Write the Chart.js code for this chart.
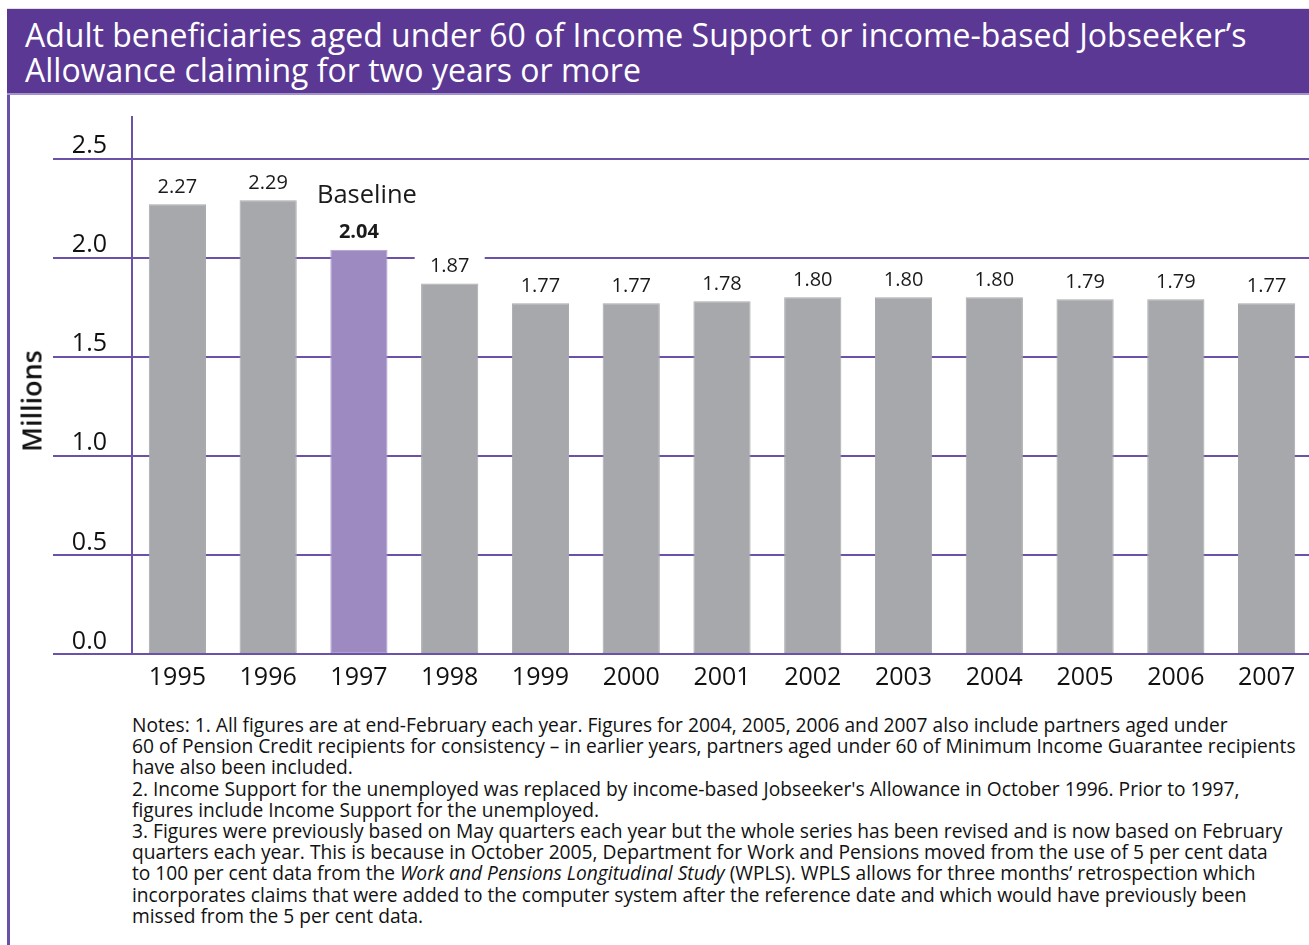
<!DOCTYPE html>
<html lang="en">
<head>
  <meta charset="UTF-8">
  <title>Long-term claimants under 60</title>
  <script src="https://cdn.jsdelivr.net/npm/chart.js"></script>
  <style>
    body { margin: 0; width: 1309px; height: 945px; overflow: hidden; background: #fff; position: relative; font-family: "Open Sans", sans-serif; }
    .title-bar { position: absolute; left: 7px; top: 8px; width: 1302px; height: 87px; box-sizing: border-box;
      background: #5B3893; border-top: 1px solid #e2e0e6; border-bottom: 2px solid #a393cc;
      color: #fff; font-size: 32px; line-height: 35px; padding: 8px 0 0 18px; white-space: nowrap; }
    .side-rule { position: absolute; left: 7px; top: 95px; bottom: 0; width: 3px; background: #6B50A8; }
    .chart-box { position: absolute; left: 0; top: 100px; width: 1312px; height: 600px; }
    .y-title { position: absolute; left: 31px; top: 401px; transform: translate(-50%, -50%) rotate(-90deg);
      font-size: 27px; font-weight: 600; color: #111; white-space: nowrap; }
    .notes { position: absolute; left: 132px; top: 714px; font-size: 19.2px; line-height: 21.2px; color: #111; white-space: nowrap; }
  </style>
</head>
<body>
  <div class="title-bar">Adult beneficiaries aged under 60 of Income Support or income-based Jobseeker’s<br>Allowance claiming for two years or more</div>
  <div class="side-rule"></div>
  <div class="chart-box"><canvas id="claimChart"></canvas></div>
  <div class="y-title">Millions</div>
  <div class="notes">
    Notes: 1. All figures are at end-February each year. Figures for 2004, 2005, 2006 and 2007 also include partners aged under<br>
    60 of Pension Credit recipients for consistency – in earlier years, partners aged under 60 of Minimum Income Guarantee recipients<br>
    have also been included.<br>
    2. Income Support for the unemployed was replaced by income-based Jobseeker's Allowance in October 1996. Prior to 1997,<br>
    figures include Income Support for the unemployed.<br>
    3. Figures were previously based on May quarters each year but the whole series has been revised and is now based on February<br>
    quarters each year. This is because in October 2005, Department for Work and Pensions moved from the use of 5 per cent data<br>
    to 100 per cent data from the <i>Work and Pensions Longitudinal Study</i> (WPLS). WPLS allows for three months’ retrospection which<br>
    incorporates claims that were added to the computer system after the reference date and which would have previously been<br>
    missed from the 5 per cent data.
  </div>

  <script>
    const years = ['1995', '1996', '1997', '1998', '1999', '2000', '2001', '2002', '2003', '2004', '2005', '2006', '2007'];
    const claimants = [2.27, 2.29, 2.04, 1.87, 1.77, 1.77, 1.78, 1.80, 1.80, 1.80, 1.79, 1.79, 1.77];
    const yTicks = [0, 0.5, 1.0, 1.5, 2.0, 2.5];
    const baselineYear = '1997';

    const purple = '#6B51A8';
    const grey = '#A7A8AB';
    const baselineFill = '#9D8AC1';

    Chart.defaults.font.family = '"Open Sans", sans-serif';
    Chart.defaults.color = '#1a1a1a';

    // value above each bar, plus the "Baseline" note over the reference year
    const valueLabels = {
      id: 'valueLabels',
      afterDatasetsDraw(chart) {
        const ctx = chart.ctx;
        const bars = chart.getDatasetMeta(0).data;
        ctx.save();
        ctx.textBaseline = 'middle';
        bars.forEach((bar, i) => {
          const y = bar.y - 17;
          const isBase = years[i] === baselineYear;
          ctx.fillStyle = '#fff';
          ctx.fillRect(bar.x - 35, y - 11, 70, 22);
          ctx.fillStyle = '#1a1a1a';
          ctx.textAlign = 'center';
          ctx.font = (isBase ? '700' : '400') + ' 20px "Open Sans"';
          ctx.fillText(claimants[i].toFixed(2), bar.x, y);
          if (isBase) {
            ctx.textAlign = 'left';
            ctx.font = '500 25.5px "Open Sans"';
            ctx.fillText('Baseline', bar.x - 42, bar.y - 54);
          }
        });
        ctx.restore();
      }
    };

    new Chart(document.getElementById('claimChart'), {
      type: 'bar',
      data: {
        labels: years,
        datasets: [{
          data: claimants,
          backgroundColor: years.map(y => y === baselineYear ? baselineFill : grey),
          borderColor: years.map(y => y === baselineYear ? '#ad9fd0' : grey),
          borderWidth: 1,
          borderSkipped: false,
          barPercentage: 0.63,
          categoryPercentage: 1
        }]
      },
      options: {
        responsive: true,
        maintainAspectRatio: false,
        animation: false,
        layout: { padding: { top: 17, right: 0, bottom: 0, left: 0 } },
        plugins: { legend: { display: false }, tooltip: { enabled: false } },
        scales: {
          x: {
            grid: { display: false, drawTicks: false },
            border: { display: false },
            ticks: { font: { size: 25 }, padding: 9, color: '#111' },
            afterFit: scale => { scale.height = 46; }
          },
          y: {
            min: 0,
            max: 2.71,
            afterBuildTicks: scale => { scale.ticks = yTicks.map(v => ({ value: v })); },
            grid: { color: purple, lineWidth: 2, tickLength: 79, drawTicks: true, tickColor: purple },
            border: { display: true, color: purple, width: 2 },
            ticks: {
              font: { size: 25 },
              padding: -54,
              align: 'end',
              color: '#111',
              callback: v => v.toFixed(1)
            },
            afterFit: scale => { scale.width = 132; }
          }
        }
      },
      plugins: [valueLabels]
    });
  </script>
</body>
</html>
